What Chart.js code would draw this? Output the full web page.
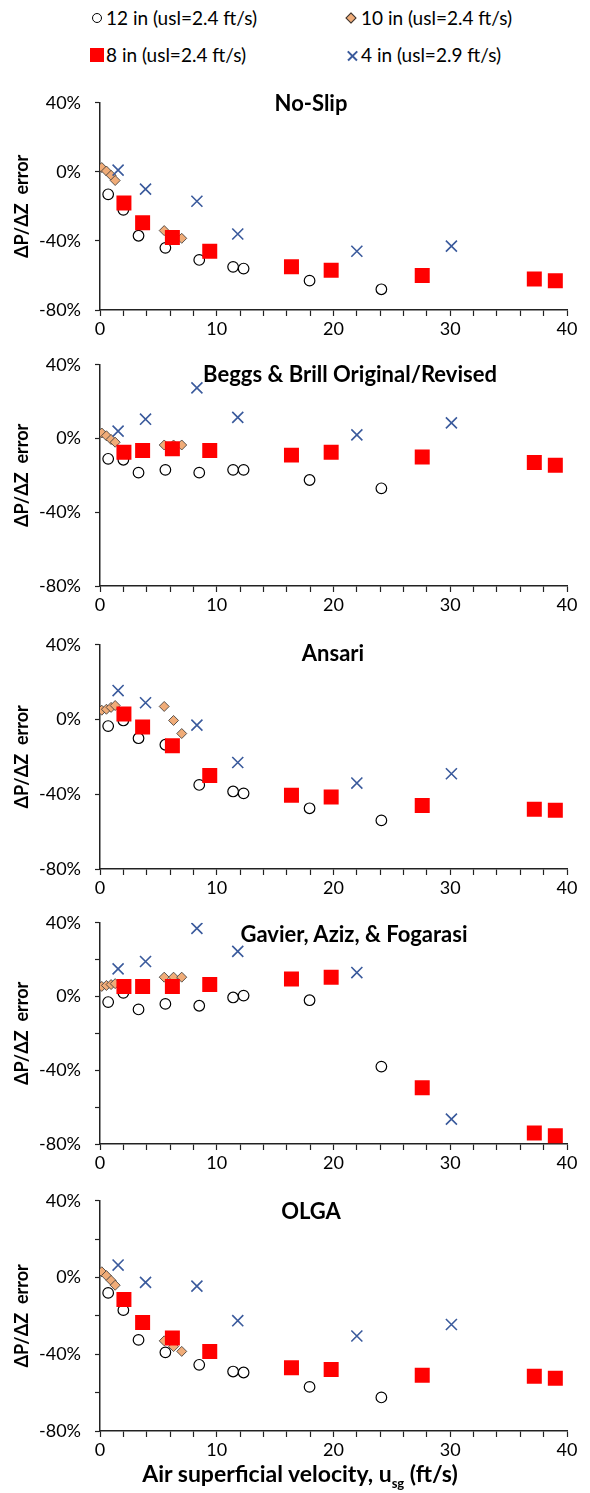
<!DOCTYPE html>
<html>
<head>
<meta charset="utf-8">
<script src="https://cdn.jsdelivr.net/npm/chart.js@4.4.0/dist/chart.umd.min.js"></script>
<style>
  body { margin: 0; background: #fff; font-family: Lato, "Liberation Sans", sans-serif; color: #000; }
  #page { position: relative; width: 590px; height: 1493px; overflow: hidden; }
  .panel { position: absolute; left: 0; }
  .title { position: absolute; font-weight: bold; font-size: 22px; line-height: 22px; white-space: nowrap; transform: translateX(-50%); }
  .leg { position: absolute; font-size: 19px; line-height: 22px; white-space: nowrap; }
  .mk { position: absolute; box-sizing: border-box; }
  .xtitle { position: absolute; font-weight: bold; font-size: 23px; line-height: 22px; white-space: nowrap; transform: translateX(-50%); }
  .xtitle sub { font-size: 13px; }
</style>
</head>
<body>
<div id="page">
  <!-- legend -->
  <div class="mk" style="left:92px;top:13px;width:10px;height:10px;border:1.5px solid #000;border-radius:50%;background:#fff"></div>
  <div class="leg" style="left:106px;top:7px">12 in (usl=2.4 ft/s)</div>
  <div class="mk" style="left:347px;top:14px;width:8px;height:8px;border:1px solid #333;background:#F0AC78;transform:rotate(45deg)"></div>
  <div class="leg" style="left:361px;top:7px">10 in (usl=2.4 ft/s)</div>
  <div class="mk" style="left:90px;top:48px;width:14px;height:14px;background:#FF0000"></div>
  <div class="leg" style="left:106px;top:44px">8 in (usl=2.4 ft/s)</div>
  <div class="mk" style="left:346px;top:55px;width:13px;height:1.6px;background:#3A5A9C;transform:rotate(45deg)"></div>
  <div class="mk" style="left:346px;top:55px;width:13px;height:1.6px;background:#3A5A9C;transform:rotate(-45deg)"></div>
  <div class="leg" style="left:361px;top:44px">4 in (usl=2.9 ft/s)</div>

  <!-- chart area top sits 24px below each canvas top (tick label + padding) -->
  <div class="panel" style="top:78px"><canvas id="c1" width="590" height="262"></canvas></div>
  <div class="panel" style="top:340px"><canvas id="c2" width="590" height="276"></canvas></div>
  <div class="panel" style="top:620px"><canvas id="c3" width="590" height="279"></canvas></div>
  <div class="panel" style="top:898px"><canvas id="c4" width="590" height="276"></canvas></div>
  <div class="panel" style="top:1176px"><canvas id="c5" width="590" height="285"></canvas></div>

  <div class="title" style="left:311px;top:92px">No-Slip</div>
  <div class="title" style="left:350px;top:363px">Beggs &amp; Brill Original/Revised</div>
  <div class="title" style="left:333px;top:642px">Ansari</div>
  <div class="title" style="left:354px;top:923px">Gavier, Aziz, &amp; Fogarasi</div>
  <div class="title" style="left:311px;top:1200px">OLGA</div>

  <div class="xtitle" style="left:300px;top:1462px">Air superficial velocity, u<sub>sg</sub> (ft/s)</div>
</div>

<script>
// air superficial velocity (ft/s) of each test, per pipe size
var x12 = [0.7, 2.0, 3.3, 5.6, 8.5, 11.4, 12.3, 17.95, 24.1];
var x10 = [0.15, 0.55, 0.95, 1.3, 5.5, 6.3, 7.0];
var x8 = [2.05, 3.65, 6.2, 9.4, 16.4, 19.8, 27.6, 37.2, 39.0];
var x4 = [1.55, 3.9, 8.3, 11.8, 22.0, 30.1];

// dP/dZ error (%) - No-Slip
var noSlip12 = [-13, -22, -37, -44, -51, -55, -56, -63, -68];
var noSlip10 = [2.5, 0.5, -2, -5, -34, -37, -38.5];
var noSlip8 = [-18, -29.5, -38, -46, -55, -57, -60, -62, -63];
var noSlip4 = [1, -10, -17, -36, -46, -43];

// Beggs & Brill
var beggs12 = [-11, -11.5, -18.5, -17, -18.5, -17, -17, -22.5, -27];
var beggs10 = [3, 1.5, -0.5, -2, -3.5, -3.5, -3.5];
var beggs8 = [-7.5, -6.5, -5.5, -6.5, -9, -7.5, -10, -13, -14.5];
var beggs4 = [4, 10.5, 27.5, 11.5, 2, 8.5];

// Ansari
var ansari12 = [-3.5, -0.5, -10, -13.5, -35, -38.5, -39.5, -47.5, -54];
var ansari10 = [5, 5.5, 6.5, 7.5, 7, -0.5, -7.5];
var ansari8 = [3, -4, -14, -30, -40.5, -41.5, -46, -48, -48.5];
var ansari4 = [15.5, 9, -3, -23, -34, -29];

// Gavier, Aziz & Fogarasi
var gavier12 = [-3, 2, -7, -4, -5, -0.5, 0.5, -2, -38];
var gavier10 = [5.5, 6, 6.5, 7, 10.5, 10.5, 10.5];
var gavier8 = [5.5, 5.5, 5.5, 6.5, 9.5, 10.5, -49.5, -74, -75.5];
var gavier4 = [15, 19, 37, 24.5, 13, -66.5];

// OLGA
var olga12 = [-8, -17, -32.5, -39, -45.5, -49, -49.5, -57, -62.5];
var olga10 = [3, 1, -1.5, -4, -33, -36, -38.5];
var olga8 = [-11.5, -23.5, -31.5, -38.5, -47, -48, -51, -51.5, -52.5];
var olga4 = [6.5, -2.5, -4.5, -22.5, -30.5, -24.5];

var yTicks = [-80, -40, 0, 40];

Chart.defaults.font.family = "Lato, 'Liberation Sans', sans-serif";
Chart.defaults.color = "#000";

function pts(xs, ys) {
  var out = [];
  for (var i = 0; i < xs.length; i++) {
    out.push({ x: xs[i], y: ys[i] });
  }
  return out;
}

function makePanel(id, y12, y10, y8, y4, minor) {
  var ctx = document.getElementById(id).getContext("2d");
  return new Chart(ctx, {
    type: "scatter",
    data: {
      datasets: [
        {
          label: "12 in (usl=2.4 ft/s)",
          data: pts(x12, y12),
          pointStyle: "circle",
          pointRadius: 5.3,
          pointBackgroundColor: "#fff",
          pointBorderColor: "#000",
          pointBorderWidth: 1.2,
          order: 4,
        },
        {
          label: "10 in (usl=2.4 ft/s)",
          data: pts(x10, y10),
          pointStyle: "rectRot",
          pointRadius: 5,
          pointBackgroundColor: "#F0AC78",
          pointBorderColor: "#333",
          pointBorderWidth: 0.8,
          order: 3,
        },
        {
          label: "8 in (usl=2.4 ft/s)",
          data: pts(x8, y8),
          pointStyle: "rect",
          pointRadius: 10.6,
          pointBackgroundColor: "#FF0000",
          pointBorderColor: "#FF0000",
          pointBorderWidth: 0,
          order: 2,
        },
        {
          label: "4 in (usl=2.9 ft/s)",
          data: pts(x4, y4),
          pointStyle: "crossRot",
          pointRadius: 7.8,
          pointBorderColor: "#3A5A9C",
          pointBorderWidth: 1.6,
          order: 1,
        },
      ],
    },
    options: {
      responsive: false,
      animation: false,
      layout: { padding: { top: 8, right: 23, left: 0, bottom: 0 } },
      plugins: { legend: { display: false }, tooltip: { enabled: false } },
      scales: {
        x: {
          type: "linear",
          min: 0,
          max: 40,
          afterFit: function (s) {
            s.height = 30;
          },
          border: { color: "#222", width: 1.5 },
          grid: { drawOnChartArea: false, tickLength: 6, tickColor: "#222", tickWidth: 1.2 },
          ticks: {
            stepSize: 2,
            autoSkip: false,
            maxRotation: 0,
            padding: 2,
            font: { size: 18 },
            callback: function (v) {
              return v % 10 === 0 ? String(v) : "";
            },
          },
        },
        y: {
          min: -80,
          max: 40,
          afterFit: function (s) {
            s.width = 100;
          },
          title: {
            display: true,
            text: "ΔP/ΔZ  error",
            font: { size: 18, weight: "bold" },
            padding: { top: 11, bottom: 0 },
          },
          border: { color: "#222", width: 1.5 },
          grid: {
            drawOnChartArea: false,
            tickLength: 5,
            tickWidth: 1.2,
            tickColor: function (c) {
              if (!minor && c.tick && yTicks.indexOf(c.tick.value) < 0) return "rgba(0,0,0,0)";
              return "#222";
            },
          },
          ticks: {
            stepSize: 20,
            padding: 14,
            font: { size: 18 },
            callback: function (v) {
              return yTicks.indexOf(v) >= 0 ? v + "%" : "";
            },
          },
        },
      },
    },
  });
}

makePanel("c1", noSlip12, noSlip10, noSlip8, noSlip4, false);
makePanel("c2", beggs12, beggs10, beggs8, beggs4, false);
makePanel("c3", ansari12, ansari10, ansari8, ansari4, false);
makePanel("c4", gavier12, gavier10, gavier8, gavier4, true);
makePanel("c5", olga12, olga10, olga8, olga4, true);
</script>
</body>
</html>
